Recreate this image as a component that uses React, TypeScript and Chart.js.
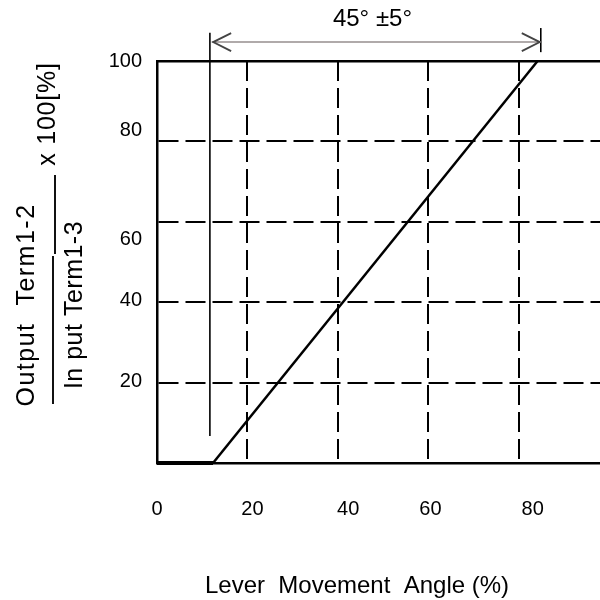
import React, { useEffect, useRef } from "react";
import { Chart, registerables } from "chart.js";

Chart.register(...registerables);

// Axis ranges
const X_RANGE = [0, 98];
const Y_RANGE = [0, 100];

// Grid line values
const X_GRID = [0, 20, 40, 60, 80];
const Y_GRID = [0, 20, 40, 60, 80, 100];

// Tick labels and the values where they are printed
const X_TICK_LABELS = ["0", "20", "40", "60", "80"];
const X_TICK_AT = [0, 21.1, 42.3, 60.5, 83.1];
const Y_TICK_LABELS = ["100", "80", "60", "40", "20"];
const Y_TICK_AT = [100, 82.8, 55.7, 40.5, 20.4];

// Characteristic curve
const DEAD_ZONE_X = [0, 12.4];
const DEAD_ZONE_Y = [0, 0];
const RISE_X = [12.4, 84.2];
const RISE_Y = [0, 100];

// Dimension annotation (45° ±5°)
const START_LINE_X = [11.7, 11.7];
const START_LINE_Y = [6.7, 107];
const ARROW_X = [12.2, 84.9];
const ARROW_Y = [104.7, 104.7];
const END_BAR_X = [84.9, 84.9];
const END_BAR_Y = [102.2, 108.2];

// Texts
const ANGLE_TEXT = "45° ±5°";
const X_TITLE = "Lever  Movement  Angle (%)";
const Y_NUM = "Output  Term1-2";
const Y_DEN = "In put Term1-3";
const Y_MULT = "x 100[%]";

const FONT = "'Liberation Sans', Arial, sans-serif";

const pts = (xs: number[], ys: number[]) => xs.map((x, i) => ({ x, y: ys[i] }));

const annotationPlugin = {
  id: "annotationPlugin",
  afterDatasetsDraw(chart: any) {
    const ctx = chart.ctx as CanvasRenderingContext2D;
    const xs = chart.scales.x;
    const ys = chart.scales.y;
    const y = ys.getPixelForValue(ARROW_Y[0]);
    const x1 = xs.getPixelForValue(ARROW_X[0]);
    const x2 = xs.getPixelForValue(ARROW_X[1]);
    ctx.save();
    ctx.strokeStyle = "#444";
    ctx.lineWidth = 1.8;
    ctx.beginPath();
    ctx.moveTo(x1 + 19, y - 9);
    ctx.lineTo(x1 + 1, y);
    ctx.lineTo(x1 + 19, y + 9);
    ctx.stroke();
    ctx.beginPath();
    ctx.moveTo(x2 - 19, y - 9);
    ctx.lineTo(x2 - 1, y);
    ctx.lineTo(x2 - 19, y + 9);
    ctx.stroke();
    ctx.font = `24px ${FONT}`;
    ctx.fillStyle = "#000";
    ctx.textAlign = "center";
    ctx.textBaseline = "middle";
    ctx.fillText(ANGLE_TEXT, (x1 + x2) / 2 - 4, y - 23);
    ctx.restore();
  },
  afterDraw(chart: any) {
    const ctx = chart.ctx as CanvasRenderingContext2D;
    ctx.save();
    ctx.fillStyle = "#000";
    ctx.textAlign = "center";
    ctx.textBaseline = "middle";
    // x title
    ctx.font = `24px ${FONT}`;
    ctx.fillText(X_TITLE, 357, 586);
    // y title (fraction)
    const rot = (text: string, cx: number, cy: number, spacing: string) => {
      ctx.save();
      ctx.translate(cx, cy);
      ctx.rotate(-Math.PI / 2);
      (ctx as any).letterSpacing = spacing;
      ctx.fillText(text, 0, 0);
      ctx.restore();
    };
    ctx.font = `25px ${FONT}`;
    rot(Y_NUM, 27, 305, "1.5px");
    rot(Y_DEN, 75, 305, "0.5px");
    rot(Y_MULT, 48, 114, "0.8px");
    ctx.strokeStyle = "#111";
    ctx.lineWidth = 2;
    ctx.beginPath();
    ctx.moveTo(55, 175);
    ctx.lineTo(55, 254);
    ctx.moveTo(53, 256);
    ctx.lineTo(53, 404);
    ctx.stroke();
    ctx.restore();
  },
};

export default function App() {
  const ref = useRef<HTMLCanvasElement | null>(null);

  useEffect(() => {
    if (!ref.current) return;
    const line = (data: any[], color: string, width: number) => ({
      data,
      borderColor: color,
      backgroundColor: color,
      borderWidth: width,
      pointRadius: 0,
      fill: false,
      tension: 0,
      clip: false as any,
      xAxisID: "x",
      yAxisID: "y",
    });
    const chart = new Chart(ref.current, {
      type: "line",
      data: {
        datasets: [
          line(pts(DEAD_ZONE_X, DEAD_ZONE_Y), "#000", 4),
          line(pts(RISE_X, RISE_Y), "#000", 2.5),
          line(pts(START_LINE_X, START_LINE_Y), "#000", 1.6),
          line(pts(ARROW_X, ARROW_Y), "#b0aaaa", 2),
          line(pts(END_BAR_X, END_BAR_Y), "#000", 1.6),
        ],
      },
      options: {
        responsive: false,
        animation: false,
        layout: { padding: { top: 61, left: 0, right: 0, bottom: 0 } },
        plugins: { legend: { display: false }, tooltip: { enabled: false } },
        scales: {
          x: {
            type: "linear",
            position: "bottom",
            weight: 0,
            min: X_RANGE[0],
            max: X_RANGE[1],
            afterBuildTicks: (s: any) => {
              s.ticks = X_GRID.map((v) => ({ value: v }));
            },
            afterFit: (s: any) => {
              s.height = 0;
            },
            ticks: { display: false },
            grid: {
              display: true,
              drawTicks: false,
              color: (c: any) => (c.tick && c.tick.value === 0 ? "rgba(0,0,0,0)" : "#000"),
              lineWidth: 2,
            },
            border: { display: true, color: "#000", width: 2.5, dash: [20, 7] },
          },
          xLabels: {
            type: "linear",
            axis: "x",
            position: "bottom",
            weight: 1,
            min: X_RANGE[0],
            max: X_RANGE[1],
            afterBuildTicks: (s: any) => {
              s.ticks = X_TICK_AT.map((v) => ({ value: v }));
            },
            afterFit: (s: any) => {
              s.height = 137;
            },
            ticks: {
              autoSkip: false,
              maxRotation: 0,
              padding: 34,
              color: "#000",
              font: { family: FONT, size: 20 },
              callback: (_v: any, i: number) => X_TICK_LABELS[i],
            },
            grid: { display: false, drawTicks: false },
            border: { display: false },
          },
          xTop: {
            type: "linear",
            axis: "x",
            position: "top",
            min: X_RANGE[0],
            max: X_RANGE[1],
            afterFit: (s: any) => {
              s.height = 0;
            },
            ticks: { display: false },
            grid: { display: false, drawTicks: false },
            border: { display: true, color: "#000", width: 2.5 },
          },
          y: {
            type: "linear",
            position: "left",
            weight: 0,
            min: Y_RANGE[0],
            max: Y_RANGE[1],
            afterBuildTicks: (s: any) => {
              s.ticks = Y_GRID.map((v) => ({ value: v }));
            },
            afterFit: (s: any) => {
              s.width = 0;
            },
            ticks: { display: false },
            grid: {
              display: true,
              drawTicks: false,
              color: (c: any) =>
                c.tick && (c.tick.value === 0 || c.tick.value === 100) ? "rgba(0,0,0,0)" : "#000",
              lineWidth: 2,
            },
            border: { display: true, color: "#000", width: 2.5, dash: [20, 7] },
          },
          yLabels: {
            type: "linear",
            axis: "y",
            position: "left",
            weight: 1,
            min: Y_RANGE[0],
            max: Y_RANGE[1],
            afterBuildTicks: (s: any) => {
              s.ticks = Y_TICK_AT.map((v) => ({ value: v }));
            },
            afterFit: (s: any) => {
              s.width = 157;
            },
            ticks: {
              autoSkip: false,
              padding: 15,
              color: "#000",
              font: { family: FONT, size: 20 },
              callback: (_v: any, i: number) => Y_TICK_LABELS[i],
            },
            grid: { display: false, drawTicks: false },
            border: { display: false },
          },
        },
      } as any,
      plugins: [annotationPlugin],
    });
    return () => chart.destroy();
  }, []);

  return (
    <div style={{ position: "fixed", left: 0, top: 0, width: 600, height: 600, background: "#fff" }}>
      <canvas ref={ref} width={600} height={600} style={{ width: 600, height: 600, display: "block" }} />
    </div>
  );
}
